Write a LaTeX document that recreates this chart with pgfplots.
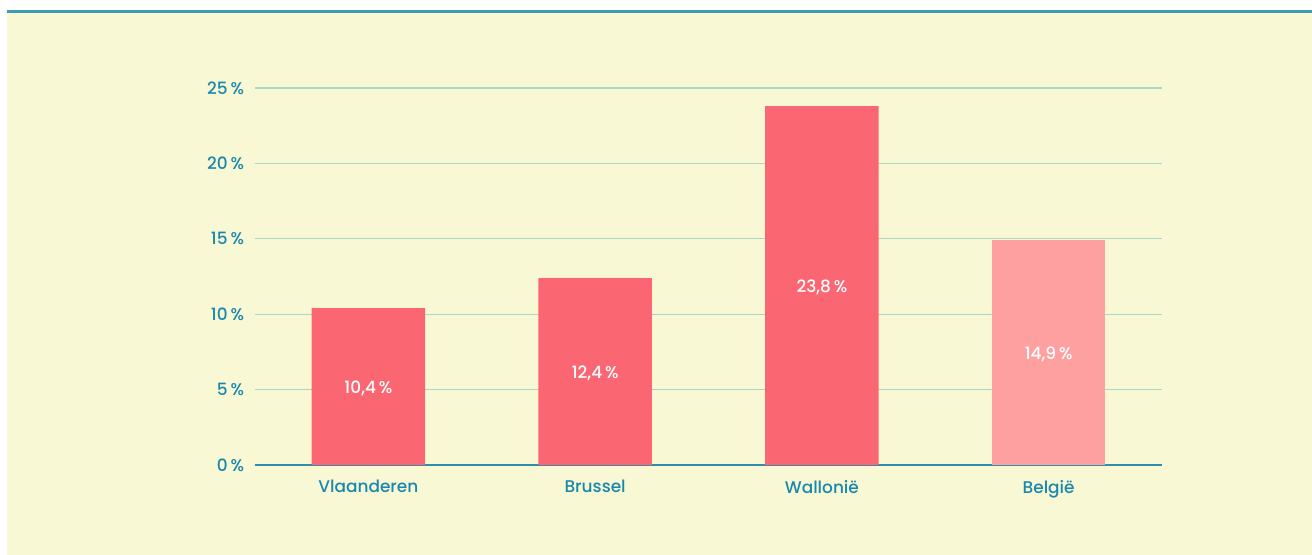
\documentclass[border=0pt]{standalone}
\usepackage{pgfplots}
\pgfplotsset{compat=1.18}
\usepackage{fontspec}
\setmainfont{Poppins}[UprightFont=* Medium]

\definecolor{panel}{HTML}{F8F9D4}
\definecolor{topline}{HTML}{3C9CB6}
\definecolor{barred}{HTML}{FB6673}
\definecolor{barlight}{HTML}{FEA0A0}
\definecolor{gridc}{HTML}{A9D6C6}
\definecolor{axisc}{HTML}{2E8EAF}
\definecolor{textc}{HTML}{1A87AD}

\begin{document}
\begin{tikzpicture}
% 1 px of the 1312x555 reference = 0.5bp
\path[use as bounding box] (0,0) rectangle (656bp,277.5bp);
\fill[white] (0,0) rectangle (656bp,277.5bp);
\fill[panel] (3.5bp,0) rectangle (656bp,271.5bp);
\draw[topline, line width=1.2bp] (3.5bp,271.75bp) -- (656bp,271.75bp);

\begin{axis}[
    at={(127.5bp,45bp)}, anchor=south west,
    scale only axis,
    width=453.5bp, height=188.5bp,
    xmin=-0.5, xmax=3.5,
    ymin=0, ymax=25,
    xtick={0,1,2,3},
    xticklabels={Vlaanderen,Brussel,Wallonië,België},
    ytick={0,5,10,15,20,25},
    yticklabel={\pgfmathprintnumber{\tick}\,\%},
    /pgf/number format/assume math mode=true,
    major tick length=0pt,
    axis x line*=bottom,
    axis y line*=left,
    y axis line style={draw=none},
    x axis line style={axisc, line width=1bp, -},
    ymajorgrids,
    grid style={gridc, line width=0.6bp},
    tick label style={font=\fontsize{8.5}{10}\selectfont, text=textc},
    yticklabel style={xshift=-2bp},
    xticklabel style={yshift=-4bp},
    ybar, bar width=0.5, bar shift=0pt,
    clip=false,
]
\addplot[fill=barred, draw=none] coordinates {(0,10.4) (1,12.4) (2,23.8)};
\addplot[fill=barlight, draw=none] coordinates {(3,14.9)};

\begin{scope}[every node/.style={text=white, font=\fontsize{8.5}{10}\selectfont}]
\node at (axis cs:0,5.1) {10,4\,\%};
\node at (axis cs:1,6.1) {12,4\,\%};
\node at (axis cs:2,11.8) {23,8\,\%};
\node at (axis cs:3,7.35) {14,9\,\%};
\end{scope}
\end{axis}
\end{tikzpicture}
\end{document}
